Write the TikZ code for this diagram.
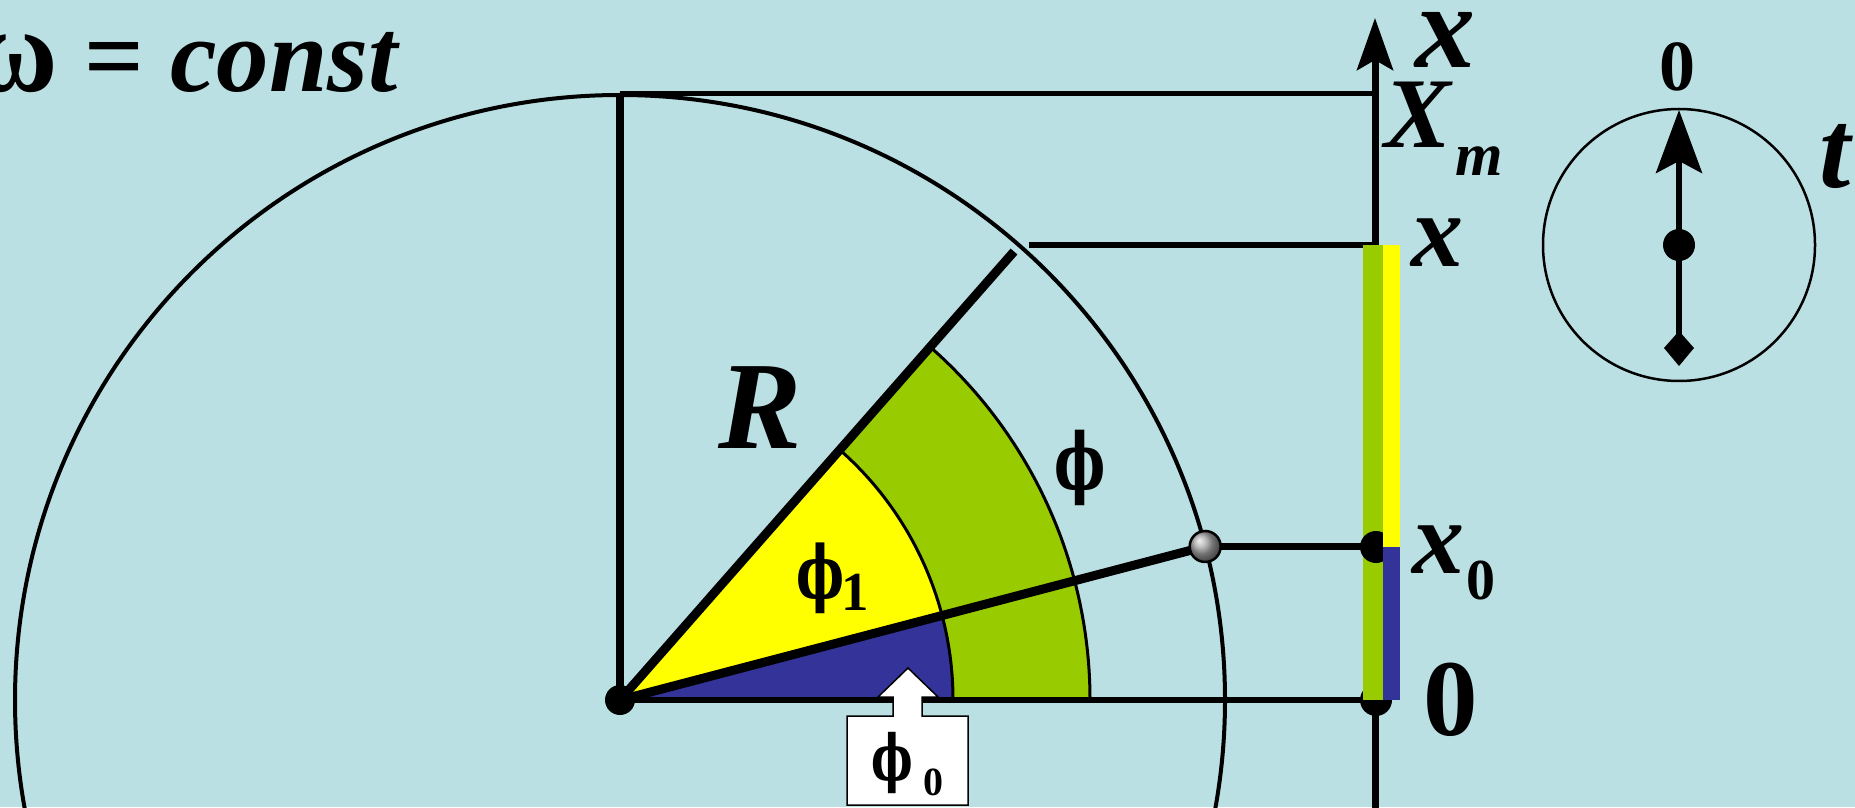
\documentclass[tikz,border=0pt]{standalone}
\usepackage{fontspec}
\setmainfont{Liberation Serif}
\newfontfamily\phifont{DejaVu Serif}
\usetikzlibrary{arrows.meta,calc}
\definecolor{bg}{RGB}{187,224,227}
\definecolor{grn}{RGB}{153,204,0}
\definecolor{yel}{RGB}{255,255,0}
\definecolor{blu}{RGB}{51,51,153}
\newcommand{\myfs}[1]{\fontsize{#1}{#1}\selectfont}
\newcommand{\myphi}{\scalebox{0.85}[1.22]{\phifont\bfseries ϕ}}
\begin{document}
\begin{tikzpicture}[x=1pt,y=1pt,
  bi/.style={inner sep=0pt,font={\myfs{#1}\bfseries\itshape}},
  bu/.style={inner sep=0pt,font={\myfs{#1}\bfseries}},
  arcline/.style={line width=3pt},
]
\useasboundingbox (0,0) rectangle (1855,807);
\fill[bg] (0,0) rectangle (1855,807);
\clip (0,0) rectangle (1855,807);

\coordinate (O) at (620,107);
\coordinate (B) at ($(O)+(14.7:605)$);
\coordinate (Rend) at ($(O)+(48.7:597)$);
\coordinate (ax0) at (1375,107);
\coordinate (axbot) at (1375,-10);
\coordinate (axtop) at (1375,789);
\coordinate (ctop) at (620,713);
\coordinate (xR) at (1029,562);

% sectors
\fill[grn] (O) -- ++(0:470) arc[start angle=0,end angle=48.7,radius=470] -- cycle;
\draw[arcline] ($(O)+(0:470)$) arc[start angle=0,end angle=48.7,radius=470];
\fill[blu] (O) -- ++(0:333) arc[start angle=0,end angle=14.7,radius=333] -- cycle;
\fill[yel] (O) -- ++(14.7:333) arc[start angle=14.7,end angle=48.7,radius=333] -- cycle;
\draw[arcline] ($(O)+(0:333)$) arc[start angle=0,end angle=48.7,radius=333];

% big circle
\draw[line width=4pt] (O) circle[radius=605];

% lines
\draw[line width=7.5pt] (O) -- (ctop);
\draw[line width=5pt] (ctop) -- (ctop -| ax0);
\draw[line width=7pt,-{Stealth[length=52pt,width=36pt,inset=10pt]}] (axbot) -- (axtop);
\draw[line width=9pt] (O) -- (Rend);
\draw[line width=6.5pt] (xR) -- (xR -| ax0);
\draw[line width=9pt] (O) -- (B);
\draw[line width=6.5pt] (B) -- (B -| ax0);
\draw[line width=6.5pt] (O) -- (ax0);

% bars and dots
\fill (1376,107) circle[radius=16];
\fill[grn] (1363,107) rectangle (1383,562);
\fill (1376,260) circle[radius=16];
\fill[yel] (1383,260) rectangle (1400,562);
\fill[blu] (1383,107) rectangle (1400,260);

\fill (O) circle[radius=15];
\node[circle,minimum size=31pt,inner sep=0pt,ball color=gray!70,draw,line width=2.5pt] (ball) at (B) {};

% callout phi0
\draw[fill=white,line width=1.5pt] (847,2) -- (968,2) -- (968,91) -- (922,91) -- (922,110) -- (938,110) -- (908,139) -- (878,110) -- (893,110) -- (893,91) -- (847,91) -- cycle;
\node[bu=52] (p0) at (892,44) {\myphi};
\node[bu=40] (p0s) at (933,25) {0};

% clock
\coordinate (cc) at (1679,562);
\draw[line width=2.5pt] (cc) circle[radius=136];
\draw[line width=6pt,-{Stealth[length=63pt,width=46pt,inset=12pt]}] (cc) -- (1679,697);
\draw[line width=6pt] (cc) -- (1679,470);
\fill (1679,441) -- (1694,459) -- (1679,476) -- (1664,459) -- cycle;
\fill (cc) circle[radius=16];
\node[bu=72] (c0) at (1677,740) {0};
\node[bi=112] (t) at (1835,650) {t};

% labels
\node[bi=105,anchor=base east] (om) at (398,715) {\upshape\scalebox{1.1}[1.15]{ω} = \itshape const};
\node[bi=125] (R) at (760,399) {R};
\node[bu=64] (phi) at (1080,339) {\myphi};
\node[bu=60] (phi1) at (820,229) {\myphi};
\node[bu=55] (phi1s) at (855,215) {1};
\node[bi=120] (xt) at (1445,767) {x};
\node[bi=100] (Xm) at (1418,692) {X};
\node[bi=61] (Xms) at (1479,646) {m};
\node[bi=104] (x1) at (1437,564) {x};
\node[bi=104] (x0) at (1438,257) {x};
\node[bu=58] (x0s) at (1481,227) {0};
\node[bu=109] (zero) at (1451,107) {0};
\end{tikzpicture}
\end{document}
